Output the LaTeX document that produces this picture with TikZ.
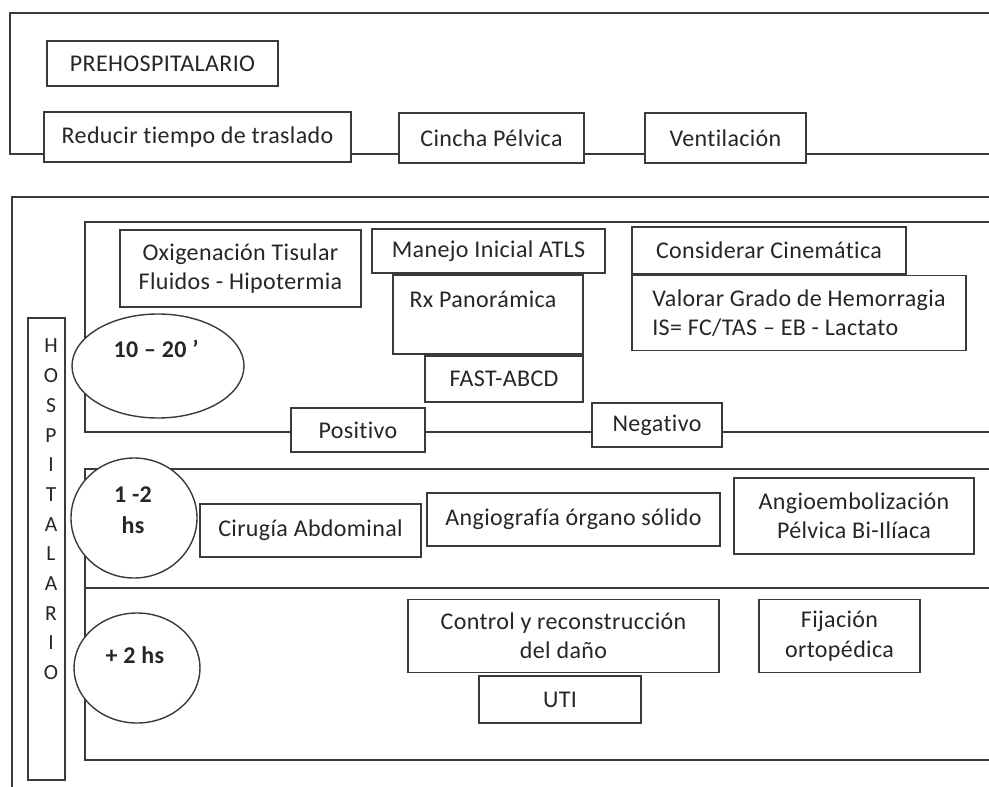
\documentclass[tikz,border=0pt]{standalone}
\usepackage{fontspec}
\setmainfont{Carlito}[RawFeature={-liga;-clig}, LetterSpace=1.5]
\usetikzlibrary{shapes.geometric}
\definecolor{linec}{HTML}{3A3A3A}
\definecolor{txtc}{HTML}{262626}
\begin{document}
\begin{tikzpicture}[x=1pt,y=-1pt,
  frame/.style={draw=linec, line width=1.6pt},
  box/.style={draw=linec, line width=1.6pt, fill=white, inner sep=0pt, align=center,
    text=txtc, font=\fontsize{24}{29.5}\selectfont},
  oval/.style={ellipse, draw=linec, line width=1.4pt, fill=white, inner sep=0pt},
  ovaltxt/.style={align=center, text=txtc, inner sep=0pt, font=\fontsize{24}{31}\selectfont\bfseries},
  vtxt/.style={align=center, text=txtc, inner sep=0pt, font=\fontsize{21.5}{29.7}\selectfont}
]
\useasboundingbox (0,0) rectangle (989,787);
\fill[white] (0,0) rectangle (989,787);

% frame corners
\coordinate (pA) at (989,13);  \coordinate (pB) at (10,13);
\coordinate (pC) at (10,154);  \coordinate (pD) at (989,154);
\coordinate (hA) at (989,197); \coordinate (hB) at (12,197); \coordinate (hC) at (12,787);
\coordinate (b1A) at (989,222); \coordinate (b1B) at (85,222);
\coordinate (b1C) at (85,432);  \coordinate (b1D) at (989,432);
\coordinate (b2A) at (989,469); \coordinate (b2B) at (85,469);
\coordinate (b2C) at (85,760);  \coordinate (b2D) at (989,760);
\coordinate (b3A) at (85,588);  \coordinate (b3B) at (989,588);

\draw[frame] (pA) -- (pB) -- (pC) -- (pD);
\draw[frame] (hA) -- (hB) -- (hC);
\draw[frame] (b1A) -- (b1B) -- (b1C) -- (b1D);
\draw[frame] (b2A) -- (b2B) -- (b2C) -- (b2D);
\draw[frame] (b3A) -- (b3B);

% prehospital
\node[box, minimum width=231pt, minimum height=45pt] (prehosp) at (162.5,63.5) {PREHOSPITALARIO};
\node[box, minimum width=307pt, minimum height=50pt] (reduce) at (197.5,137) {Reducir tiempo de traslado};
\node[box, minimum width=185pt, minimum height=50pt] (cincha) at (491.5,138) {Cincha Pélvica};
\node[box, minimum width=161pt, minimum height=50pt] (venti) at (725.5,138) {Ventilación};

% hospital label
\node[box, minimum width=37pt, minimum height=462pt] (hbox) at (46.5,549) {};
\node[vtxt] (htxt) at (51,509.5) {H\\O\\S\\P\\I\\T\\A\\L\\A\\R\\I\\O};

% band 1
\node[box, minimum width=241pt, minimum height=77pt] (oxig) at (240.5,268.5) {Oxigenación Tisular\\Fluidos - Hipotermia};
\node[box, minimum width=233pt, minimum height=44pt] (manejo) at (488.5,251) {Manejo Inicial ATLS};
\node[box, minimum width=190pt, text height=32.5pt, text depth=46.5pt] (rx) at (488,314.5) {Rx Panorámica\hspace*{10pt}};
\node[box, minimum width=158pt, minimum height=46pt] (fast) at (504,379) {FAST-ABCD};
\node[box, minimum width=274pt, minimum height=47pt] (consid) at (769,250.5) {Considerar Cinemática};
\node[box, minimum width=334pt, minimum height=75pt, align=left] (valorar) at (799,313) {Valorar Grado de Hemorragia\\IS= FC/TAS – EB - Lactato};
\node[box, minimum width=134pt, minimum height=44pt] (positivo) at (358,430) {Positivo};
\node[box, minimum width=130pt, minimum height=44pt] (negativo) at (657,425) {Negativo};
\node[oval, minimum width=172pt, minimum height=104pt] (e1) at (158,366) {};
\node[ovaltxt] (e1t) at (156,349) {10 – 20 ’};

% band 2
\node[box, minimum width=221pt, minimum height=53pt] (cirugia) at (310.5,530.5) {Cirugía Abdominal};
\node[box, minimum width=293pt, minimum height=53pt] (angiog) at (573.5,519.5) {Angiografía órgano sólido};
\node[box, minimum width=240pt, minimum height=76pt] (angioemb) at (854,516) {Angioembolización\\Pélvica Bi-Ilíaca};
\node[oval, minimum width=126pt, minimum height=120pt] (e2) at (134,518) {};
\node[ovaltxt] (e2t) at (133,510) {1 -2\\hs};

% band 3
\node[box, minimum width=311pt, minimum height=73pt] (control) at (563.5,636) {Control y reconstrucción\\del daño};
\node[box, minimum width=162pt, minimum height=47pt] (uti) at (560,699.5) {UTI};
\node[box, minimum width=161pt, minimum height=73pt] (fijacion) at (839.5,636) {Fijación\\ortopédica};
\node[oval, minimum width=126pt, minimum height=110pt] (e3) at (137,668) {};
\node[ovaltxt] (e3t) at (135,655) {+ 2 hs};
\end{tikzpicture}
\end{document}
